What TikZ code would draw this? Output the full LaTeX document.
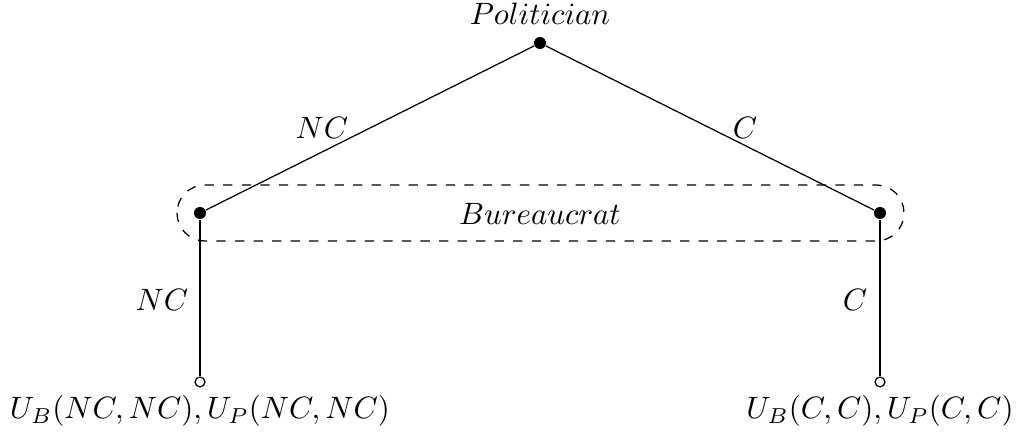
\documentclass[tikz,border=0pt]{standalone}
\begin{document}
\begin{tikzpicture}[x=0.3235pt,y=-0.3235pt,
  solid node/.style={circle,fill=black,inner sep=0pt,minimum size=3.9pt},
  open node/.style={circle,draw=black,fill=white,inner sep=0pt,minimum size=3.2pt,line width=0.4pt},
  lbl/.style={inner sep=1pt}]
\useasboundingbox (0,0) rectangle (1016,438);
\node[solid node] (P) at (540,43) {};
\node[solid node] (BL) at (200,213) {};
\node[solid node] (BR) at (880,213) {};
\node[open node] (TL) at (200,382) {};
\node[open node] (TR) at (880,382) {};
\node[lbl] (tP) at (540,14) {$Politician$};
\draw (P) -- (BL);
\draw (P) -- (BR);
\draw (BL) -- (TL);
\draw (BR) -- (TR);
\node[lbl] (lNC1) at (322,128) {$NC$};
\node[lbl] (lC1) at (745,128) {$C$};
\node[lbl] (lB) at (540,214) {$Bureaucrat$};
\node[lbl] (lNC2) at (162,300) {$NC$};
\node[lbl] (lC2) at (855,300) {$C$};
\node[lbl] (uL) at (200,411) {$U_B(NC,NC),U_P(NC,NC)$};
\node[lbl] (uR) at (880,411) {$U_B(C,C),U_P(C,C)$};
\draw[dashed,rounded corners=9pt] (177,185) rectangle (904,241);
\end{tikzpicture}
\end{document}
